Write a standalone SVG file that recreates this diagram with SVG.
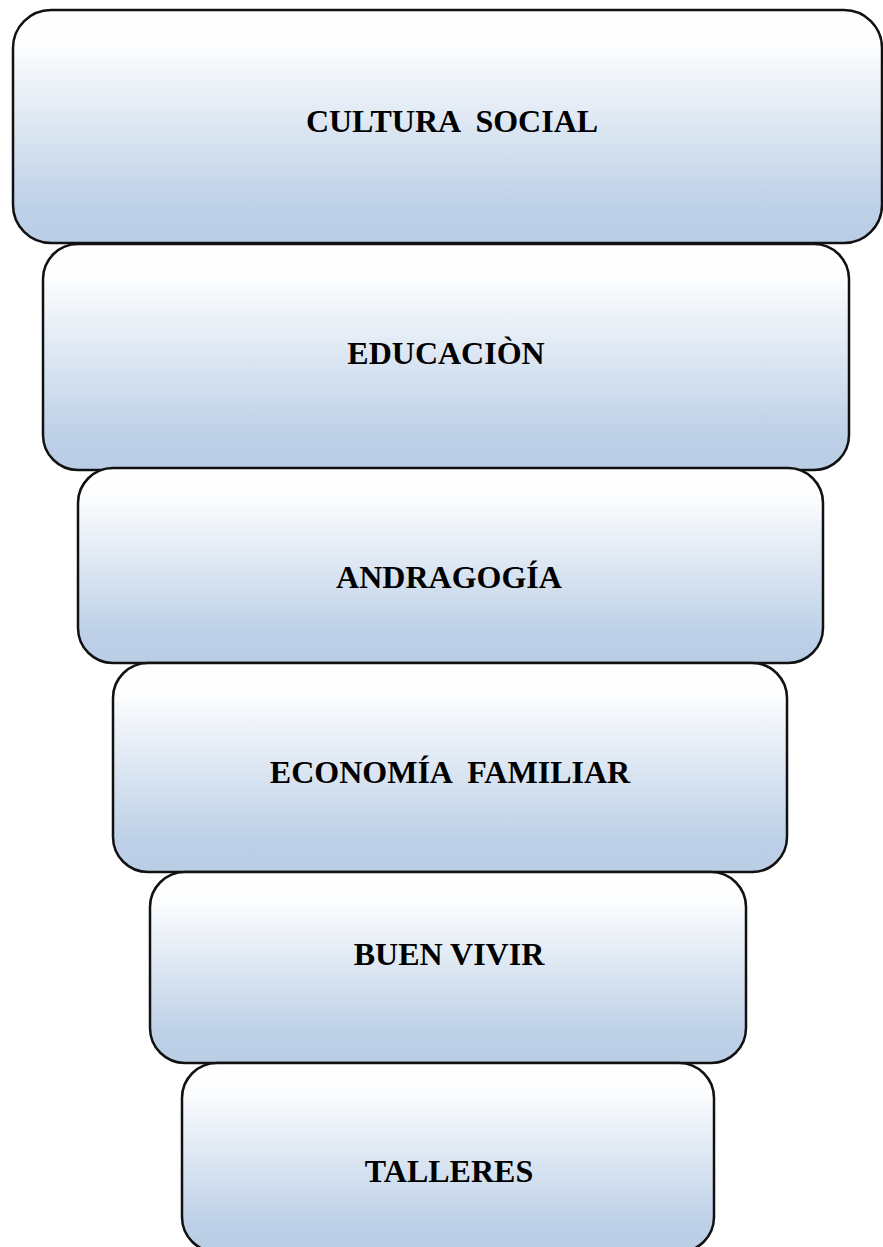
<svg xmlns="http://www.w3.org/2000/svg" width="883" height="1247" viewBox="0 0 883 1247">
<defs>
<linearGradient id="g" x1="0" y1="0" x2="0" y2="1">
<stop offset="0" stop-color="#ffffff"/>
<stop offset="0.15" stop-color="#fcfdfe"/>
<stop offset="0.85" stop-color="#bdd0e7"/>
<stop offset="1" stop-color="#b9cde5"/>
</linearGradient>
</defs>
<style>
.box{fill:url(#g);stroke:#111;stroke-width:2.5}
.lbl{font-family:"Liberation Serif","Times New Roman",serif;font-weight:bold;font-size:32px;fill:#000;text-anchor:middle}
</style>
<g id="connectors"></g>
<g id="cultura-social">
<rect class="box" x="13" y="10" width="869" height="233" rx="38" ry="38"/>
<text class="lbl" x="452" y="132" xml:space="preserve">CULTURA  SOCIAL</text>
</g>
<g id="educacion">
<rect class="box" x="43" y="244" width="806" height="226" rx="35" ry="35"/>
<text class="lbl" x="446" y="364">EDUCACIÒN</text>
</g>
<g id="andragogia">
<rect class="box" x="78" y="468" width="745" height="195" rx="35" ry="35"/>
<text class="lbl" x="449" y="588">ANDRAGOGÍA</text>
</g>
<g id="economia-familiar">
<rect class="box" x="113" y="663" width="674" height="209" rx="35" ry="35"/>
<text class="lbl" x="450" y="783" xml:space="preserve">ECONOMÍA  FAMILIAR</text>
</g>
<g id="buen-vivir">
<rect class="box" x="150" y="872" width="596" height="191" rx="35" ry="35"/>
<text class="lbl" x="449" y="965">BUEN VIVIR</text>
</g>
<g id="talleres">
<rect class="box" x="182" y="1063" width="532" height="189" rx="35" ry="35"/>
<text class="lbl" x="449" y="1182">TALLERES</text>
</g>
</svg>
